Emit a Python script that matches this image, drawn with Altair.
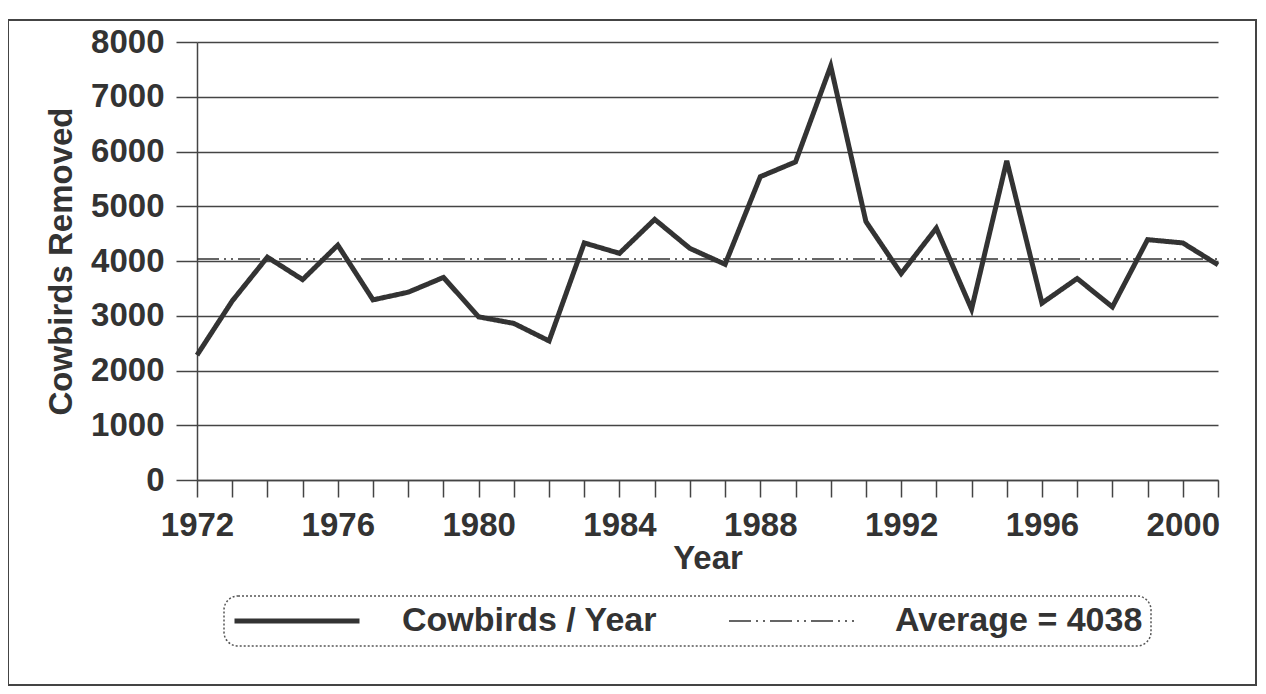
import altair as alt
import pandas as pd

YEARS = [1972, 1973, 1974, 1975, 1976, 1977, 1978, 1979, 1980, 1981,
         1982, 1983, 1984, 1985, 1986, 1987, 1988, 1989, 1990, 1991,
         1992, 1993, 1994, 1995, 1996, 1997, 1998, 1999, 2000, 2001]
COWBIRDS = [2280, 3270, 4070, 3660, 4290, 3290, 3430, 3700, 2980, 2860,
            2540, 4330, 4140, 4760, 4230, 3940, 5540, 5810, 7560, 4720,
            3770, 4600, 3120, 5830, 3230, 3680, 3160, 4390, 4330, 3930]
AVERAGE = 4038
SERIES = ["Cowbirds / Year", "Average = 4038"]
Y_TICKS = [0, 1000, 2000, 3000, 4000, 5000, 6000, 7000, 8000]
X_LABELS = [1972, 1976, 1980, 1984, 1988, 1992, 1996, 2000]

rows = [{"year": y, "value": v, "series": SERIES[0]} for y, v in zip(YEARS, COWBIRDS)]
rows += [{"year": YEARS[0], "value": AVERAGE, "series": SERIES[1]},
         {"year": YEARS[-1], "value": AVERAGE, "series": SERIES[1]}]
df = pd.DataFrame(rows)

INK = "#333333"
FONT = "Liberation Sans"
W, H = 1021, 438

label_test = " || ".join(f"datum.value == {v}" for v in X_LABELS)

lines = alt.Chart(df).mark_line(color=INK, strokeJoin="miter", strokeCap="butt").encode(
    x=alt.X("year:Q",
            scale=alt.Scale(domain=[YEARS[0], YEARS[-1]], nice=False, zero=False),
            axis=alt.Axis(values=YEARS, format="d", labelExpr=f"({label_test}) ? datum.label : ''",
                          grid=False, tickSize=17, labelOverlap=False, labelFlush=False,
                          labelPadding=12, title="Year", titlePadding=0)),
    y=alt.Y("value:Q",
            scale=alt.Scale(domain=[0, 8000], nice=False),
            axis=alt.Axis(values=Y_TICKS, format="d", grid=True, tickSize=21, labelPadding=12,
                          title="Cowbirds Removed", titlePadding=12)),
    strokeDash=alt.StrokeDash("series:N",
                              scale=alt.Scale(domain=SERIES, range=[[1, 0], [22, 5, 2, 5, 2, 5]]),
                              legend=alt.Legend(title=None)),
    strokeWidth=alt.StrokeWidth("series:N",
                                scale=alt.Scale(domain=SERIES, range=[5, 1.5]),
                                legend=alt.Legend(title=None)),
    order="year:Q",
)

frame = alt.Chart(pd.DataFrame({"k": [0]})).mark_rect(
    fill="white", fillOpacity=0, stroke="#444444", strokeWidth=2
).encode(x=alt.value(-189), x2=alt.value(1059), y=alt.value(-22), y2=alt.value(643))

chart = alt.layer(frame, lines).properties(
    width=W, height=H,
    autosize=alt.AutoSizeParams(type="none"),
    padding={"left": 189, "top": 34, "right": 40, "bottom": 206},
).configure_view(stroke=None).configure_axis(
    labelFont=FONT, titleFont=FONT, labelFontSize=33, titleFontSize=33,
    labelFontWeight="bold", titleFontWeight="bold",
    labelColor=INK, titleColor=INK,
    domainColor="#444444", domainWidth=1.5, tickColor="#444444", tickWidth=1.5,
    gridColor="#444444", gridWidth=1.5,
).configure_legend(
    orient="none", legendX=27, legendY=554, direction="horizontal",
    symbolType="stroke", symbolSize=15625, symbolStrokeColor=INK, symbolOffset=0,
    clipHeight=34, padding=8, labelOffset=40, columnPadding=70, labelLimit=500,
    labelFont=FONT, labelFontSize=34, labelFontWeight="bold", labelColor=INK,
    strokeColor="#555555", strokeDash=[2, 2], strokeWidth=1.5, cornerRadius=14,
    fillColor="white",
)

chart.save("out.html", embed_options={"renderer": "svg", "actions": False})
